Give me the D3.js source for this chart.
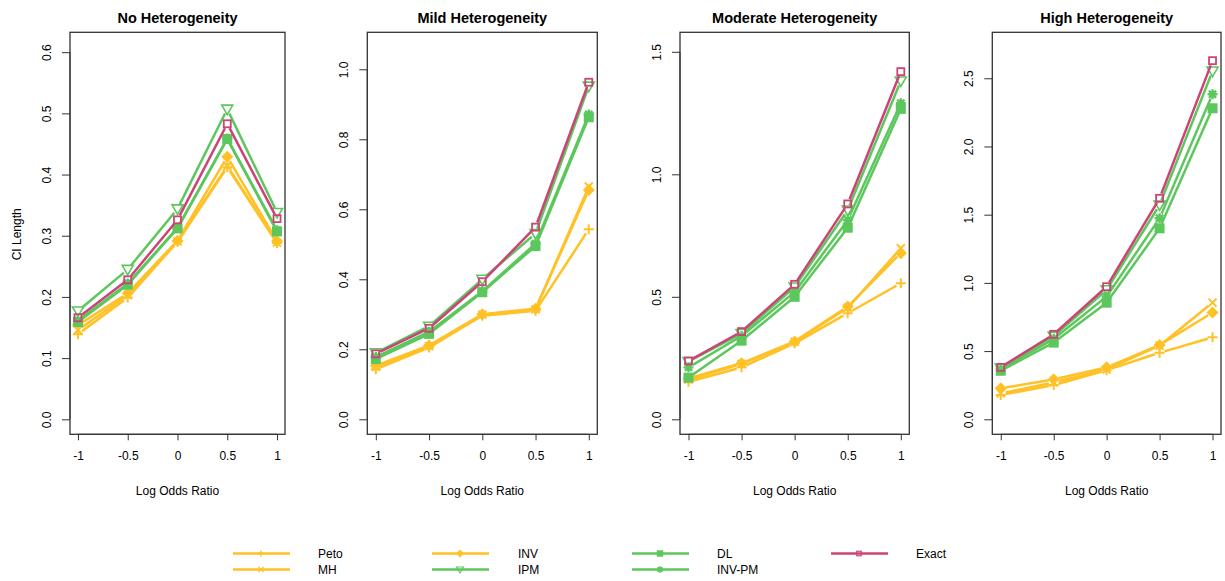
<!DOCTYPE html>
<html><head><meta charset="utf-8">
<script src="https://cdn.jsdelivr.net/npm/d3@7"></script>
<style>body{margin:0;background:#fff;font-family:"Liberation Sans",Arial,sans-serif}</style>
</head><body>
<svg id="c" width="1225" height="581"></svg>
<script>
const xValues = [-1, -0.5, 0, 0.5, 1];
const xTickLabels = ["-1", "-0.5", "0", "0.5", "1"];
const methods = ["Peto", "MH", "INV", "IPM", "DL", "INV-PM", "Exact"];
const panelTitles = ["No Heterogeneity", "Mild Heterogeneity", "Moderate Heterogeneity", "High Heterogeneity"];

// CI length per method, per panel
const noHet = {
  "Peto":   [0.139, 0.199, 0.290, 0.412, 0.288],
  "MH":     [0.146, 0.203, 0.291, 0.414, 0.289],
  "INV":    [0.154, 0.206, 0.292, 0.429, 0.291],
  "IPM":    [0.177, 0.245, 0.344, 0.507, 0.338],
  "DL":     [0.159, 0.220, 0.312, 0.458, 0.307],
  "INV-PM": [0.161, 0.222, 0.313, 0.459, 0.309],
  "Exact":  [0.166, 0.228, 0.326, 0.483, 0.328]
};
const mildHet = {
  "Peto":   [0.143, 0.205, 0.296, 0.310, 0.543],
  "MH":     [0.150, 0.209, 0.299, 0.314, 0.665],
  "INV":    [0.153, 0.211, 0.300, 0.316, 0.655],
  "IPM":    [0.190, 0.266, 0.400, 0.531, 0.952],
  "DL":     [0.172, 0.244, 0.363, 0.495, 0.863],
  "INV-PM": [0.178, 0.250, 0.366, 0.502, 0.871],
  "Exact":  [0.187, 0.260, 0.393, 0.549, 0.963]
};
const modHet = {
  "Peto":   [0.153, 0.212, 0.310, 0.433, 0.555],
  "MH":     [0.162, 0.226, 0.316, 0.455, 0.698],
  "INV":    [0.167, 0.229, 0.318, 0.460, 0.678],
  "IPM":    [0.236, 0.350, 0.540, 0.854, 1.381],
  "DL":     [0.170, 0.321, 0.500, 0.782, 1.267],
  "INV-PM": [0.212, 0.340, 0.520, 0.813, 1.290],
  "Exact":  [0.238, 0.358, 0.551, 0.879, 1.419]
};
const highHet = {
  "Peto":   [0.178, 0.251, 0.360, 0.488, 0.601],
  "MH":     [0.190, 0.270, 0.365, 0.540, 0.855],
  "INV":    [0.227, 0.293, 0.381, 0.545, 0.782],
  "IPM":    [0.375, 0.610, 0.950, 1.571, 2.553],
  "DL":     [0.356, 0.562, 0.855, 1.400, 2.280],
  "INV-PM": [0.365, 0.590, 0.900, 1.474, 2.383],
  "Exact":  [0.381, 0.623, 0.972, 1.620, 2.629]
};
const panelData = [noHet, mildHet, modHet, highHet];
const yTicks = [
  [0, 0.1, 0.2, 0.3, 0.4, 0.5, 0.6],
  [0, 0.2, 0.4, 0.6, 0.8, 1.0],
  [0, 0.5, 1.0, 1.5],
  [0, 0.5, 1.0, 1.5, 2.0, 2.5]
];
const yLimits = [[-0.0245, 0.6325], [-0.0429, 1.1057], [-0.0612, 1.5796], [-0.11, 2.837]];

const ORANGE = "#FFC125", GREEN = "#5CC75C", RED = "#CC4477";
const color = {"Peto": ORANGE, "MH": ORANGE, "INV": ORANGE, "IPM": GREEN, "DL": GREEN, "INV-PM": GREEN, "Exact": RED};

const boxes = [
  {l: 70, r: 285}, {l: 367.3, r: 597.3}, {l: 680, r: 909.3}, {l: 992.3, r: 1221}
];
const TOP = 32.3, BOTTOM = 434.3;

const svg = d3.select("#c");

function drawMarker(g, m, x, y, c) {
  const s = g.append("g").attr("transform", `translate(${x},${y})`);
  switch (m) {
    case "Peto":
      s.append("path").attr("d", "M-5,0H5M0,-5V5").attr("stroke", c).attr("stroke-width", 2).attr("fill", "none"); break;
    case "MH":
      s.append("path").attr("d", "M-4,-4L4,4M-4,4L4,-4").attr("stroke", c).attr("stroke-width", 2).attr("fill", "none"); break;
    case "INV":
      s.append("path").attr("d", "M0,-6L6,0L0,6L-6,0Z").attr("fill", c); break;
    case "IPM":
      s.append("path").attr("d", "M-5.5,-4L5.5,-4L0,5.5Z").attr("stroke", c).attr("stroke-width", 1.6).attr("fill", "none"); break;
    case "DL":
      s.append("rect").attr("x", -5).attr("y", -5).attr("width", 10).attr("height", 10).attr("fill", c); break;
    case "INV-PM":
      s.append("path").attr("d", "M-5,0H5M0,-5V5M-3.6,-3.6L3.6,3.6M-3.6,3.6L3.6,-3.6").attr("stroke", c).attr("stroke-width", 2.4).attr("fill", "none"); break;
    case "Exact":
      s.append("rect").attr("x", -3.5).attr("y", -3.5).attr("width", 7).attr("height", 7).attr("stroke", c).attr("stroke-width", 1.8).attr("fill", "none"); break;
  }
}

panelData.forEach((data, i) => {
  const b = boxes[i];
  const x = d3.scaleLinear().domain([-1.08, 1.08]).range([b.l, b.r]);
  const y = d3.scaleLinear().domain(yLimits[i]).range([BOTTOM, TOP]);
  const g = svg.append("g");

  g.append("text").attr("x", (b.l + b.r) / 2).attr("y", 23).attr("text-anchor", "middle")
    .attr("font-weight", "bold").attr("font-size", 14.5).attr("fill", "#000").text(panelTitles[i]);

  const gap = 5;
  methods.forEach(m => {
    const vals = data[m];
    const pts = vals.map((v, k) => [x(xValues[k]), y(v)]);
    for (let k = 0; k < pts.length - 1; k++) {
      const [x0, y0] = pts[k], [x1, y1] = pts[k + 1];
      const dx = x1 - x0, dy = y1 - y0, len = Math.hypot(dx, dy);
      if (len <= 2 * gap) continue;
      const ux = dx / len, uy = dy / len;
      g.append("line")
        .attr("x1", x0 + ux * gap).attr("y1", y0 + uy * gap)
        .attr("x2", x1 - ux * gap).attr("y2", y1 - uy * gap)
        .attr("stroke", color[m]).attr("stroke-width", 2.5);
    }
    pts.forEach(p => drawMarker(g, m, p[0], p[1], color[m]));
  });

  g.append("rect").attr("x", b.l).attr("y", TOP).attr("width", b.r - b.l).attr("height", BOTTOM - TOP)
    .attr("fill", "none").attr("stroke", "#333").attr("stroke-width", 1.3);

  const xa = g.append("g").attr("transform", `translate(0,${BOTTOM})`)
    .call(d3.axisBottom(x).tickValues(xValues).tickFormat((d, k) => xTickLabels[k]).tickSize(6).tickPadding(11));
  xa.select(".domain").attr("d", `M${x(-1)},0H${x(1)}`).attr("stroke", "#333");
  xa.selectAll(".tick line").attr("stroke", "#333");
  xa.selectAll("text").attr("font-size", 12).attr("fill", "#000").attr("font-family", "Liberation Sans, Arial, sans-serif");

  const yt = yTicks[i];
  const ya = g.append("g").attr("transform", `translate(${b.l},0)`)
    .call(d3.axisLeft(y).tickValues(yt).tickFormat(d3.format(".1f")).tickSize(8).tickPadding(0));
  ya.select(".domain").attr("d", `M0,${y(yt[0])}V${y(yt[yt.length - 1])}`).attr("stroke", "#333");
  ya.selectAll(".tick line").attr("stroke", "#333");
  ya.selectAll(".tick text").attr("x", null).attr("dy", 0).attr("y", 0)
    .attr("transform", "translate(-19,0) rotate(-90)")
    .attr("text-anchor", "middle").attr("font-size", 12).attr("fill", "#000")
    .attr("font-family", "Liberation Sans, Arial, sans-serif");

  g.append("text").attr("x", (b.l + b.r) / 2).attr("y", 495).attr("text-anchor", "middle")
    .attr("font-size", 12).attr("fill", "#000").text("Log Odds Ratio");

  if (i === 0) {
    g.append("text").attr("transform", `translate(21,${(TOP + BOTTOM) / 2 + 1}) rotate(-90)`)
      .attr("text-anchor", "middle").attr("font-size", 12).attr("fill", "#000").text("CI Length");
  }
});

// legend
const legendCols = [[233, 318], [432, 518], [632, 717], [831, 916]];
const legendRows = [553.5, 569.5];
methods.forEach((m, k) => {
  const col = legendCols[Math.floor(k / 2)];
  const ry = legendRows[k % 2];
  const lg = svg.append("g");
  lg.append("line").attr("x1", col[0]).attr("x2", col[0] + 57).attr("y1", ry).attr("y2", ry)
    .attr("stroke", color[m]).attr("stroke-width", 2.5);
  const mg = lg.append("g").attr("transform", `translate(${col[0] + 28},${ry}) scale(0.65)`);
  drawMarker(mg, m, 0, 0, color[m]);
  lg.append("text").attr("x", col[1]).attr("y", ry + 4.5).attr("font-size", 12).attr("fill", "#000").text(m);
});
</script>
</body></html>
